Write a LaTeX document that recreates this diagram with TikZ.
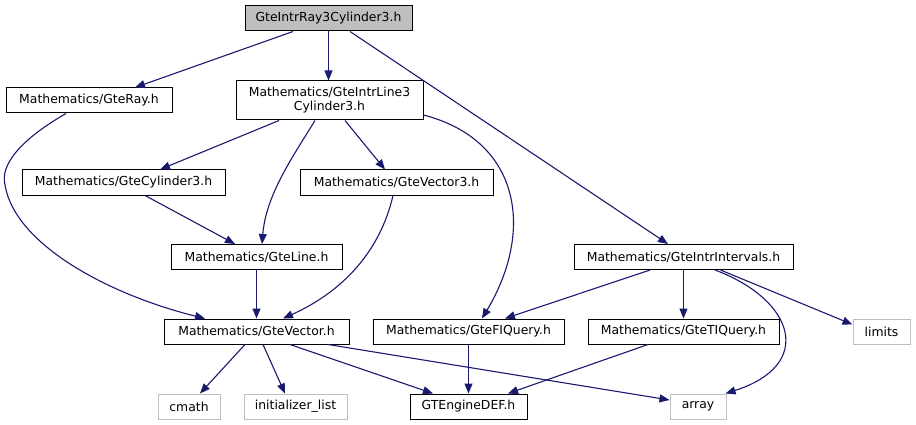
\documentclass[tikz,border=0pt]{standalone}
\usepackage{fontspec}
\setmainfont{DejaVu Sans}
\usetikzlibrary{arrows.meta}
\definecolor{edgeblue}{HTML}{191970}
\definecolor{boxgray}{HTML}{BFBFBF}
\tikzset{
  box/.style={draw=black, fill=white, line width=1pt, inner sep=0pt, align=center,
    font=\fontsize{12.4pt}{14pt}\selectfont},
  graybox/.style={box, draw=boxgray},
  topbox/.style={box, fill=boxgray},
  dep/.style={draw=edgeblue, line width=1.1pt, -{Triangle[length=10pt,width=8pt]}},
}
\begin{document}
\begin{tikzpicture}[x=1pt,y=-1pt]
\useasboundingbox (0,0) rectangle (916,425);
\node[topbox, minimum width=167pt, minimum height=25pt] (top) at (328.5,18.5) {GteIntrRay3Cylinder3.h};
\node[box, minimum width=166pt, minimum height=25pt] (ray) at (89,100.5) {Mathematics/GteRay.h};
\node[box, minimum width=187pt, minimum height=39pt] (l3c) at (329.5,100.5) {Mathematics/GteIntrLine3\\Cylinder3.h};
\node[box, minimum width=203pt, minimum height=25pt] (cyl) at (123.5,182.5) {Mathematics/GteCylinder3.h};
\node[box, minimum width=193pt, minimum height=25pt] (vec3) at (396.5,182.5) {Mathematics/GteVector3.h};
\node[box, minimum width=171pt, minimum height=25pt] (line) at (256.5,257) {Mathematics/GteLine.h};
\node[box, minimum width=219pt, minimum height=25pt] (intv) at (683.5,257) {Mathematics/GteIntrIntervals.h};
\node[box, minimum width=185pt, minimum height=25pt] (vec) at (256.5,331.5) {Mathematics/GteVector.h};
\node[box, minimum width=191pt, minimum height=25pt] (fiq) at (468.5,331.5) {Mathematics/GteFIQuery.h};
\node[box, minimum width=191pt, minimum height=25pt] (tiq) at (683.5,331.5) {Mathematics/GteTIQuery.h};
\node[graybox, minimum width=57pt, minimum height=25pt] (limits) at (881.5,331.5) {limits};
\node[graybox, minimum width=62pt, minimum height=25pt] (cmath) at (189,406.5) {cmath};
\node[graybox, minimum width=103pt, minimum height=25pt] (init) at (295.5,406.5) {initializer\_list};
\node[box, minimum width=117pt, minimum height=25pt] (gte) at (468.5,406.5) {GTEngineDEF.h};
\node[graybox, minimum width=56pt, minimum height=25pt] (array) at (698,406.5) {array};

\draw[dep] ([xshift=-35.5pt]top.south) -- ([xshift=46pt]ray.north);
\draw[dep] (top.south) -- (top.south |- l3c.north);
\draw[dep] ([xshift=21.5pt]top.south) -- ([xshift=-15.5pt]intv.north);
\draw[dep] ([xshift=-23pt]ray.south) .. controls (20,140) and (0,165) .. (5,185)
   .. controls (15,245) and (110,295) .. ([xshift=-51.5pt]vec.north);
\draw[dep] ([xshift=-50.5pt]l3c.south) -- ([xshift=36.5pt]cyl.north);
\draw[dep] ([xshift=-14.5pt]l3c.south) .. controls (292,158) and (266,195) .. ([xshift=5.5pt]line.north);
\draw[dep] ([xshift=15.5pt]l3c.south) -- ([xshift=-11.5pt]vec3.north);
\draw[dep] ([yshift=-14.5pt]l3c.east) .. controls (520,140) and (535,230) .. ([xshift=13.5pt]fiq.north);
\draw[dep] ([xshift=21.5pt]cyl.south) -- ([xshift=-21.5pt]line.north);
\draw[dep] ([xshift=-3.5pt]vec3.south) .. controls (380,252) and (342,292) .. ([xshift=26.5pt]vec.north);
\draw[dep] (line.south) -- (vec.north);
\draw[dep] ([xshift=-33.5pt]intv.south) -- ([xshift=36.5pt]fiq.north);
\draw[dep] (intv.south) -- (tiq.north);
\draw[dep] ([xshift=31.5pt]intv.south) .. controls (795,300) and (815,365) .. ([xshift=-1pt]array.north east);
\draw[dep] ([xshift=37pt]intv.south) -- ([yshift=7pt]limits.west);
\draw[dep] ([xshift=-11.5pt]vec.south) -- ([xshift=11pt]cmath.north);
\draw[dep] ([xshift=6.5pt]vec.south) -- ([xshift=-10.5pt]init.north);
\draw[dep] ([xshift=33.5pt]vec.south) -- ([xshift=-35.5pt]gte.north);
\draw[dep] ([xshift=71.5pt]vec.south) -- ([yshift=6.5pt]array.west);
\draw[dep] (fiq.south) -- (gte.north);
\draw[dep] ([xshift=-35.5pt]tiq.south) -- ([xshift=39.5pt]gte.north);
\end{tikzpicture}
\end{document}
